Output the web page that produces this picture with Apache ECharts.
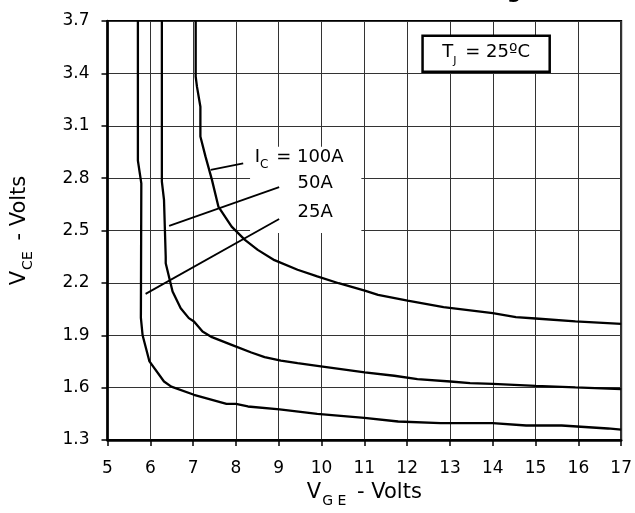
<!DOCTYPE html>
<html>
<head>
<meta charset="utf-8">
<script src="https://cdn.jsdelivr.net/npm/echarts@6/dist/echarts.min.js"></script>
<style>
  html, body { margin: 0; padding: 0; background: #fff; }
  #main { width: 635px; height: 513px; }
</style>
</head>
<body>
<div id="main"></div>
<script>
// V_GE (x) and V_CE (y), one pair of arrays per curve
var vge25 = [5.71, 5.71, 5.79, 5.78, 5.82, 5.98, 6.32, 6.49, 7.02, 7.78, 8.0, 8.28, 9.02, 9.90, 11.0, 11.79, 12.78, 14.0, 14.78, 15.61, 16.69, 17];
var vce25 = [3.7, 2.90, 2.77, 2.0, 1.90, 1.75, 1.635, 1.606, 1.559, 1.507, 1.507, 1.492, 1.475, 1.45, 1.427, 1.406, 1.397, 1.397, 1.383, 1.383, 1.366, 1.360];

var vge50 = [6.27, 6.27, 6.32, 6.36, 6.36, 6.52, 6.71, 6.90, 7.02, 7.22, 7.44, 7.90, 8.36, 8.67, 9.05, 9.44, 9.90, 11.01, 11.70, 12.24, 13.01, 13.47, 14.0, 15.0, 15.93, 17.0];
var vce50 = [3.7, 2.78, 2.675, 2.35, 2.313, 2.15, 2.055, 1.998, 1.979, 1.921, 1.889, 1.845, 1.801, 1.775, 1.755, 1.740, 1.725, 1.687, 1.668, 1.649, 1.635, 1.626, 1.622, 1.610, 1.601, 1.591];

var vge100 = [7.06, 7.06, 7.09, 7.17, 7.17, 7.29, 7.44, 7.59, 7.90, 8.21, 8.51, 8.90, 9.44, 9.90, 10.40, 11.01, 11.32, 12.01, 12.85, 14.0, 14.54, 15.0, 15.93, 17.0];
var vce100 = [3.7, 3.381, 3.324, 3.209, 3.038, 2.923, 2.790, 2.637, 2.522, 2.446, 2.389, 2.33, 2.275, 2.237, 2.198, 2.156, 2.131, 2.099, 2.061, 2.027, 2.004, 1.996, 1.979, 1.965];

// labels for the curves: text anchor and leader line ends (data units)
var curveLabels = ['{m|I}{s|C}{m| = 100A}', '{m|50A}', '{m|25A}'];
var labelX = [8.44, 9.44, 9.44];
var labelY = [2.916, 2.764, 2.601];
var leaderFrom = [[7.41, 2.847], [6.44, 2.526], [5.89, 2.137]];
var leaderTo = [[8.17, 2.885], [9.01, 2.748], [9.01, 2.566]];

// white patch behind the curve labels, and the T_J box
var labelPatch = [[8.33, 2.979], [10.93, 2.486]];
var tjBox = [[12.36, 3.616], [15.33, 3.41]];

var FONT = 'DejaVu Sans';

function pairs(xs, ys) {
    var out = [];
    for (var i = 0; i < xs.length; i++) {
        out.push([xs[i], ys[i]]);
    }
    return out;
}

var myChart = echarts.init(document.getElementById('main'));

var curveStyle = { color: '#000', width: 2.3 };

var series = [
    {
        type: 'line', data: [], z: 1, silent: true,
        markArea: {
            silent: true,
            itemStyle: { color: '#fff' },
            data: [[{ coord: labelPatch[0] }, { coord: labelPatch[1] }]]
        }
    },
    {
        type: 'line', data: [], z: 5, silent: true,
        markArea: {
            silent: true,
            itemStyle: { color: '#fff', borderColor: '#000', borderWidth: 2.5 },
            label: {
                show: true, position: 'inside', color: '#000',
                formatter: '{m|T}{s|J}{m| = 25ºC}',
                rich: {
                    m: { fontFamily: FONT, fontSize: 18, color: '#000', lineHeight: 20, verticalAlign: 'top' },
                    s: { fontFamily: FONT, fontSize: 11, color: '#000', lineHeight: 11, padding: [12, 3, 0, 0], verticalAlign: 'top' }
                }
            },
            data: [[{ coord: tjBox[0] }, { coord: tjBox[1] }]]
        }
    },
    { type: 'line', data: pairs(vge25, vce25), showSymbol: false, lineStyle: curveStyle, z: 3 },
    { type: 'line', data: pairs(vge50, vce50), showSymbol: false, lineStyle: curveStyle, z: 3 },
    { type: 'line', data: pairs(vge100, vce100), showSymbol: false, lineStyle: curveStyle, z: 3 }
];

// leader lines
for (var i = 0; i < leaderFrom.length; i++) {
    series.push({
        type: 'line', data: [leaderFrom[i], leaderTo[i]], showSymbol: false,
        lineStyle: { color: '#000', width: 1.8 }, z: 3, silent: true
    });
}

// curve label texts
series.push({
    type: 'scatter', symbolSize: 0, z: 4, silent: true,
    itemStyle: { color: '#000', opacity: 1 },
    data: labelX.map(function (x, k) { return [x, labelY[k]]; }),
    label: {
        show: true, position: 'right', distance: 0, color: '#000', opacity: 1,
        formatter: function (p) { return curveLabels[p.dataIndex]; },
        rich: {
            m: { fontFamily: FONT, fontSize: 18, color: '#000', lineHeight: 20, verticalAlign: 'top' },
            s: { fontFamily: FONT, fontSize: 12, color: '#000', lineHeight: 12, padding: [11, 2, 0, 0], verticalAlign: 'top' }
        }
    }
});

option = {
    animation: false,
    backgroundColor: '#fff',
    grid: {
        left: 107.5, right: 7, top: 21, bottom: 73,
        show: true, borderColor: '#000', borderWidth: 2
    },
    xAxis: {
        type: 'value',
        min: 5, max: 17, interval: 1,
        name: '{m|V}{s|G E}{m| - Volts}',
        nameLocation: 'middle',
        nameGap: 36,
        nameTextStyle: {
            rich: {
                m: { fontFamily: FONT, fontSize: 21, color: '#000', lineHeight: 22, verticalAlign: 'top' },
                s: { fontFamily: FONT, fontSize: 14, color: '#000', lineHeight: 14, padding: [12, 4, 0, 1], verticalAlign: 'top' }
            }
        },
        axisLine: { lineStyle: { color: '#000', width: 2.5 } },
        axisTick: { length: 6, lineStyle: { color: '#000', width: 1.5 } },
        axisLabel: { fontFamily: FONT, fontSize: 17, color: '#000', margin: 20 },
        splitLine: { lineStyle: { color: '#333', width: 1 } }
    },
    yAxis: {
        type: 'value',
        min: 1.3, max: 3.7, interval: 0.3,
        name: '{m|V}{s|CE}{m| - Volts}',
        nameLocation: 'middle',
        nameRotate: 90,
        nameGap: 76,
        nameTextStyle: {
            rich: {
                m: { fontFamily: FONT, fontSize: 21, color: '#000', lineHeight: 22, verticalAlign: 'top' },
                s: { fontFamily: FONT, fontSize: 14, color: '#000', lineHeight: 14, padding: [12, 4, 0, 1], verticalAlign: 'top' }
            }
        },
        axisLine: { lineStyle: { color: '#000', width: 2.5 } },
        axisTick: { length: 6, lineStyle: { color: '#000', width: 1.5 } },
        axisLabel: {
            fontFamily: FONT, fontSize: 17, color: '#000', margin: 18,
            formatter: function (v) { return v.toFixed(1); }
        },
        splitLine: { lineStyle: { color: '#333', width: 1 } }
    },
    graphic: [
        // descender of the cut-off title above the frame
        { type: 'text', x: 507, y: -17, style: { text: 'g', font: 'bold 20px DejaVu Sans', fill: '#000' } }
    ],
    series: series
};

myChart.setOption(option);
</script>
</body>
</html>
